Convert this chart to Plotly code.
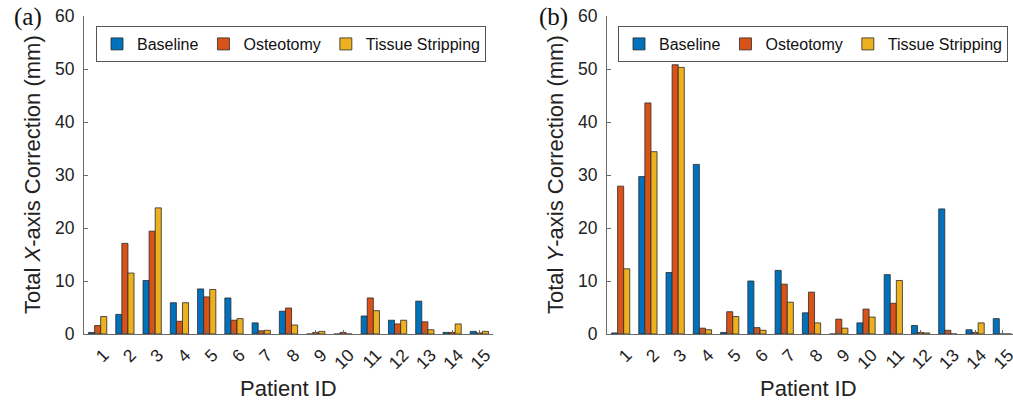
import plotly.graph_objects as go

patients = [str(i) for i in range(1, 16)]
x_baseline = [0.3, 3.7, 10.1, 5.9, 8.5, 6.8, 2.1, 4.3, 0.0, 0.0, 3.4, 2.6, 6.2, 0.3, 0.5]
x_osteotomy = [1.6, 17.1, 19.4, 2.4, 7.0, 2.6, 0.6, 4.9, 0.3, 0.3, 6.8, 1.9, 2.3, 0.3, 0.2]
x_tissue = [3.3, 11.5, 23.8, 5.9, 8.4, 2.9, 0.7, 1.7, 0.5, 0.0, 4.4, 2.6, 0.8, 1.9, 0.5]
y_baseline = [0.2, 29.7, 11.6, 32.0, 0.3, 10.0, 12.0, 4.0, 0.0, 2.1, 11.2, 1.6, 23.6, 0.8, 2.9]
y_osteotomy = [27.9, 43.6, 50.8, 1.1, 4.2, 1.2, 9.4, 7.9, 2.8, 4.7, 5.8, 0.3, 0.7, 0.3, 0.0]
y_tissue = [12.3, 34.4, 50.3, 0.8, 3.3, 0.7, 6.0, 2.1, 1.1, 3.2, 10.1, 0.2, 0.0, 2.1, 0.0]

series_names = ["Baseline", "Osteotomy", "Tissue Stripping"]
colors = ["#0072BD", "#D95319", "#EDB120"]
xpos = list(range(1, 16))

W, H = 1013, 400
FONT = "Liberation Sans, Arial, Helvetica, sans-serif"

fig = go.Figure()
for vals, name, c in zip([x_baseline, x_osteotomy, x_tissue], series_names, colors):
    fig.add_trace(go.Bar(x=xpos, y=vals, name=name, marker=dict(color=c, line=dict(color="#2a2a2a", width=0.8)),
                         xaxis="x", yaxis="y", legend="legend"))
for vals, name, c in zip([y_baseline, y_osteotomy, y_tissue], series_names, colors):
    fig.add_trace(go.Bar(x=xpos, y=vals, name=name, marker=dict(color=c, line=dict(color="#2a2a2a", width=0.8)),
                         xaxis="x2", yaxis="y2", legend="legend2"))

ydom = [(H - 334) / H, (H - 16) / H]
axcommon = dict(showgrid=False, zeroline=False, showline=True, linecolor="#6a6a6a", linewidth=1, automargin=False,
                ticks="inside", ticklen=4, tickcolor="#6a6a6a", tickfont=dict(family=FONT, size=17.5, color="#222"))
xcommon = dict(axcommon, tickmode="array", tickvals=xpos, ticktext=patients, tickangle=-45,
               ticklabelshift=6, ticklabelstandoff=3, ticklabeloverflow="allow")
ycommon = dict(axcommon, range=[0, 60], tickvals=[0, 10, 20, 30, 40, 50, 60], ticklabelstandoff=5)

legcommon = dict(orientation="h", xanchor="left", yanchor="top", bgcolor="white", bordercolor="#555",
                 borderwidth=1, font=dict(family=FONT, size=16, color="#111"), itemclick=False,
                 itemwidth=30, tracegroupgap=0)

fig.update_layout(
    width=W, height=H, margin=dict(l=0, r=0, t=0, b=0, autoexpand=False),
    paper_bgcolor="white", plot_bgcolor="white",
    barmode="group", bargap=0.33, bargroupgap=0.0,
    xaxis=dict(xcommon, domain=[84 / W, 493 / W], range=[0.5, 15.5], anchor="y"),
    yaxis=dict(ycommon, domain=ydom, anchor="x"),
    xaxis2=dict(xcommon, domain=[607 / W, 1.0], range=[0.5, 0.5 + (W - 607) / ((493 - 84) / 15)], anchor="y2"),
    yaxis2=dict(ycommon, domain=ydom, anchor="x2"),
    legend=dict(legcommon, x=96 / W, y=1 - 26 / H),
    legend2=dict(legcommon, x=618 / W, y=1 - 26 / H),
    showlegend=True,
)

annots = [
    dict(text="(a)", x=28 / W, y=1 - 17 / H, font=dict(family="Liberation Serif, Times New Roman, serif", size=25, color="#111")),
    dict(text="(b)", x=553 / W, y=1 - 17 / H, font=dict(family="Liberation Serif, Times New Roman, serif", size=25, color="#111")),
    dict(text="Total <i>X</i>-axis Correction (mm)", x=32 / W, y=1 - 175 / H, textangle=-90,
         font=dict(family=FONT, size=22, color="#222")),
    dict(text="Total <i>Y</i>-axis Correction (mm)", x=555 / W, y=1 - 175 / H, textangle=-90,
         font=dict(family=FONT, size=22, color="#222")),
    dict(text="Patient ID", x=288 / W, y=1 - 388 / H, font=dict(family=FONT, size=22, color="#222")),
    dict(text="Patient ID", x=808 / W, y=1 - 388 / H, font=dict(family=FONT, size=22, color="#222")),
]
for a in annots:
    fig.add_annotation(xref="paper", yref="paper", showarrow=False, xanchor="center", yanchor="middle", **a)

fig.write_html("out.html")
